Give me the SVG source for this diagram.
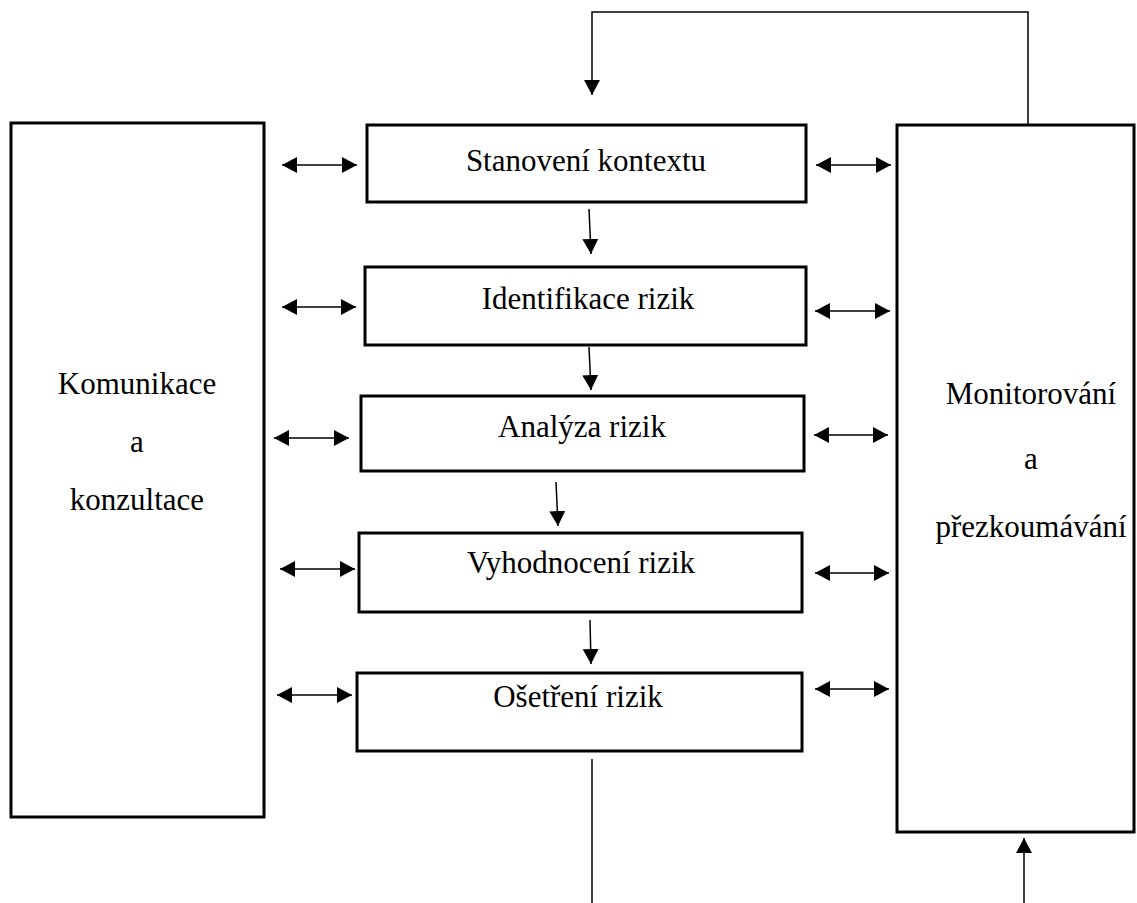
<svg xmlns="http://www.w3.org/2000/svg" width="1137" height="903" viewBox="0 0 1137 903">
<style>
.box{fill:#fff;stroke:#000;stroke-width:3}
.lbl{font-family:"Liberation Serif","Times New Roman",serif;font-size:31px;fill:#000;text-anchor:middle}
.ln{fill:none;stroke:#000;stroke-width:1.5}
.dbl{marker-start:url(#ah);marker-end:url(#ah)}
.one{marker-end:url(#ah)}
</style>
<defs>
<marker id="ah" viewBox="0 0 15 16" refX="15" refY="8" markerWidth="15" markerHeight="16" markerUnits="userSpaceOnUse" orient="auto-start-reverse">
<path d="M0,0 L15,8 L0,16 Z" fill="#000"/>
</marker>
</defs>
<rect width="1137" height="903" fill="#fff"/>
<g id="komunikace">
<rect class="box" x="11" y="123" width="253" height="694"/>
<text class="lbl" x="137" y="394">Komunikace</text>
<text class="lbl" x="137" y="452">a</text>
<text class="lbl" x="137" y="510">konzultace</text>
</g>
<g id="monitorovani">
<rect class="box" x="897" y="125" width="237" height="707"/>
<text class="lbl" x="1031" y="404">Monitorování</text>
<text class="lbl" x="1031" y="469">a</text>
<text class="lbl" x="1031" y="537">přezkoumávání</text>
</g>
<g id="stanoveni">
<rect class="box" x="367" y="125" width="439" height="77"/>
<text class="lbl" x="586" y="171">Stanovení kontextu</text>
</g>
<g id="identifikace">
<rect class="box" x="365" y="267" width="441" height="78"/>
<text class="lbl" x="588" y="309">Identifikace rizik</text>
</g>
<g id="analyza">
<rect class="box" x="361" y="396" width="443" height="75"/>
<text class="lbl" x="582" y="437">Analýza rizik</text>
</g>
<g id="vyhodnoceni">
<rect class="box" x="359" y="533" width="443" height="79"/>
<text class="lbl" x="581" y="573">Vyhodnocení rizik</text>
</g>
<g id="osetreni">
<rect class="box" x="357" y="673" width="445" height="78"/>
<text class="lbl" x="578" y="707">Ošetření rizik</text>
</g>
<g id="connectors">
<line class="ln dbl" x1="282" y1="165" x2="357" y2="165"/>
<line class="ln dbl" x1="282" y1="307" x2="356" y2="307"/>
<line class="ln dbl" x1="274" y1="438" x2="349" y2="438"/>
<line class="ln dbl" x1="280" y1="569" x2="355" y2="569"/>
<line class="ln dbl" x1="277" y1="695" x2="352" y2="695"/>
<line class="ln dbl" x1="816" y1="165" x2="891" y2="165"/>
<line class="ln dbl" x1="815" y1="311" x2="890" y2="311"/>
<line class="ln dbl" x1="814" y1="435" x2="888" y2="435"/>
<line class="ln dbl" x1="815" y1="573" x2="889" y2="573"/>
<line class="ln dbl" x1="815" y1="689" x2="889" y2="689"/>
<line class="ln one" x1="589" y1="209" x2="591" y2="254"/>
<line class="ln one" x1="589" y1="347" x2="591" y2="390"/>
<line class="ln one" x1="556" y1="482" x2="558" y2="526"/>
<line class="ln one" x1="590" y1="620" x2="591" y2="664"/>
<polyline class="ln one" points="1028,125 1028,12 592,12 592,95"/>
<line class="ln" x1="592" y1="759" x2="592" y2="903"/>
<line class="ln one" x1="1024" y1="903" x2="1024" y2="838"/>
</g>
</svg>
